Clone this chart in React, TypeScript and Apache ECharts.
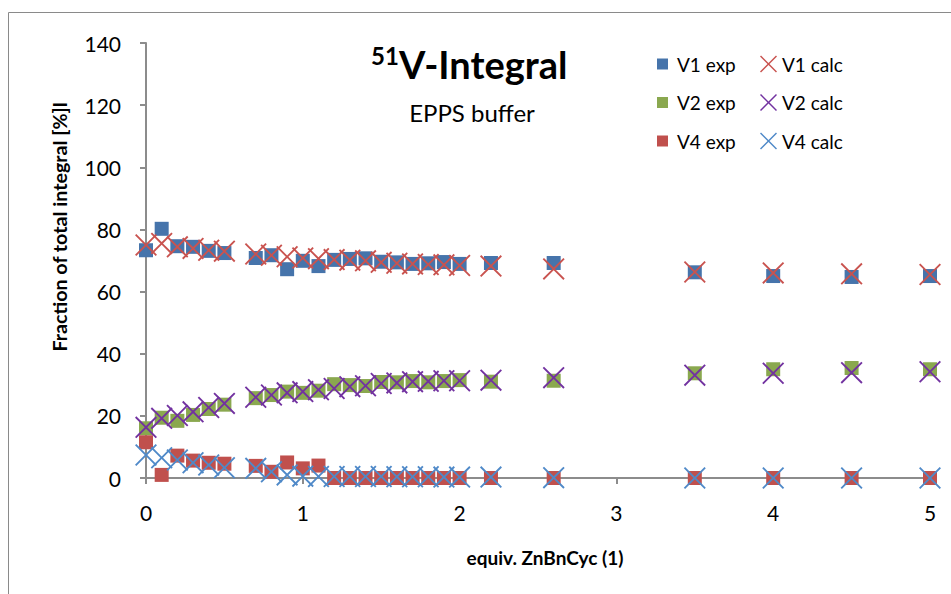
import React, { useEffect, useRef } from "react";
import * as echarts from "echarts";

const xValues = [0, 0.1, 0.2, 0.3, 0.4, 0.5, 0.7, 0.8, 0.9, 1.0, 1.1, 1.2, 1.3, 1.4, 1.5, 1.6, 1.7, 1.8, 1.9, 2.0, 2.2, 2.6, 3.5, 4.0, 4.5, 5.0];

const v1Exp = [73.3, 80.2, 74.6, 74.4, 73.1, 72.4, 70.8, 71.7, 67.2, 69.9, 68.2, 70.2, 70.5, 70.7, 69.6, 69.4, 68.9, 69.1, 69.5, 68.9, 69.2, 69.2, 66.2, 65.0, 64.7, 65.0];
const v1Calc = [75.0, 75.5, 74.4, 73.9, 73.3, 73.0, 72.1, 71.7, 71.2, 70.8, 70.6, 70.3, 70.1, 69.9, 69.4, 69.1, 68.9, 68.7, 68.6, 68.4, 68.2, 67.3, 66.3, 66.0, 65.7, 65.5];
const v2Exp = [16.0, 19.4, 18.4, 20.3, 22.2, 23.6, 25.7, 26.7, 27.8, 27.4, 28.1, 30.2, 29.9, 29.6, 30.9, 30.8, 31.2, 30.8, 31.2, 31.5, 31.0, 31.3, 33.7, 35.0, 35.4, 35.0];
const v2Calc = [16.3, 19.2, 20.1, 21.3, 22.7, 24.0, 26.0, 26.7, 27.4, 27.8, 28.4, 28.8, 29.4, 29.7, 30.4, 30.6, 31.0, 31.1, 31.3, 31.3, 31.5, 32.3, 33.1, 33.7, 33.9, 34.2];
const v4Exp = [11.5, 1.0, 7.2, 5.6, 4.9, 4.6, 3.9, 2.0, 5.0, 3.1, 4.0, 0, 0, 0, 0, 0, 0, 0, 0, 0, 0, 0, 0, 0, 0, 0];
const v4Calc = [7.4, 6.5, 5.8, 4.9, 4.2, 3.3, 3.1, 2.0, 1.0, 0.6, 0.5, 0.5, 0.5, 0.5, 0.5, 0.4, 0.4, 0.4, 0.3, 0.3, 0.3, 0.1, 0, 0, 0, 0];

const expNames = ["V1 exp", "V2 exp", "V4 exp"];
const calcNames = ["V1 calc", "V2 calc", "V4 calc"];

const FONT = "Lato, 'Liberation Sans', sans-serif";
const X_PATH = "path://M0,6L6,0L50,44L94,0L100,6L56,50L100,94L94,100L50,56L6,100L0,94L44,50Z";

const COLORS = {
  v1Exp: "#4674AB",
  v2Exp: "#8AA84F",
  v4Exp: "#C0504D",
  v1Calc: "#C9534F",
  v2Calc: "#7232A0",
  v4Calc: "#4F89C8",
};

export default function App() {
  const ref = useRef<HTMLDivElement>(null);
  useEffect(() => {
    const chart = echarts.init(ref.current!, null, { renderer: "svg" });
    const pairs = (ys: number[]) => xValues.map((x, i) => [x, ys[i]]);
    const expSeries = (name: string, ys: number[], color: string) => ({
      name,
      type: "scatter",
      symbol: "rect",
      symbolSize: 14,
      itemStyle: { color, opacity: 1 },
      emphasis: { disabled: true },
      data: pairs(ys),
    });
    const calcSeries = (name: string, ys: number[], color: string) => ({
      name,
      type: "scatter",
      symbol: X_PATH,
      symbolSize: 22,
      itemStyle: { color, opacity: 1 },
      emphasis: { disabled: true },
      data: pairs(ys),
    });
    const legendText = { fontFamily: FONT, fontSize: 19, color: "#000", lineHeight: 20 };
    chart.setOption({
      animation: false,
      grid: { left: 146, right: 21, top: 43, bottom: 116, containLabel: false },
      xAxis: {
        type: "value",
        min: 0,
        max: 5,
        interval: 1,
        axisLine: { show: true, lineStyle: { color: "#8c8c8c", width: 2 } },
        axisTick: { show: true, length: 6, lineStyle: { color: "#8c8c8c", width: 2 } },
        axisLabel: { fontFamily: FONT, fontSize: 21, color: "#000", margin: 24 },
        splitLine: { show: false },
      },
      yAxis: {
        type: "value",
        min: 0,
        max: 140,
        interval: 20,
        axisLine: { show: true, lineStyle: { color: "#8c8c8c", width: 2 } },
        axisTick: { show: true, length: 6, lineStyle: { color: "#8c8c8c", width: 2 } },
        axisLabel: { fontFamily: FONT, fontSize: 21, color: "#000", margin: 25 },
        splitLine: { show: false },
      },
      legend: [
        {
          data: expNames,
          orient: "vertical",
          left: 657,
          top: 54,
          padding: 0,
          itemWidth: 11,
          itemHeight: 11,
          itemGap: 18.5,
          icon: "rect",
          selectedMode: false,
          textStyle: { ...legendText, padding: [0, 0, 0, 4] },
        },
        {
          data: calcNames,
          orient: "vertical",
          left: 760,
          top: 54,
          padding: 0,
          itemWidth: 17,
          itemHeight: 17,
          itemGap: 18.5,
          selectedMode: false,
          textStyle: legendText,
        },
      ],
      graphic: [
        {
          type: "polyline",
          silent: true,
          shape: { points: [[8.5, 600], [8.5, 12.5], [960, 12.5]] },
          style: { fill: "none", stroke: "#8a8a8a", lineWidth: 1 },
        },
        {
          type: "text",
          silent: true,
          x: 371,
          y: 55,
          style: { text: "51", fontFamily: FONT, fontSize: 24, fontWeight: "bold", fill: "#000", align: "left", verticalAlign: "middle" },
        },
        {
          type: "text",
          silent: true,
          x: 399,
          y: 64,
          style: { text: "V-Integral", fontFamily: FONT, fontSize: 38, fontWeight: "bold", fill: "#000", align: "left", verticalAlign: "middle" },
        },
        {
          type: "text",
          silent: true,
          x: 472,
          y: 112,
          style: { text: "EPPS buffer", fontFamily: FONT, fontSize: 24, fill: "#000", align: "center", verticalAlign: "middle" },
        },
        {
          type: "text",
          silent: true,
          x: 59,
          y: 227,
          rotation: Math.PI / 2,
          style: { text: "Fraction of total integral [%]l", fontFamily: FONT, fontSize: 19.7, fontWeight: "bold", fill: "#000", align: "center", verticalAlign: "middle" },
        },
        {
          type: "text",
          silent: true,
          x: 545,
          y: 557,
          style: { text: "equiv. ZnBnCyc (1)", fontFamily: FONT, fontSize: 19, fontWeight: "bold", fill: "#000", align: "center", verticalAlign: "middle" },
        },
      ],
      series: [
        expSeries("V1 exp", v1Exp, COLORS.v1Exp),
        expSeries("V2 exp", v2Exp, COLORS.v2Exp),
        expSeries("V4 exp", v4Exp, COLORS.v4Exp),
        calcSeries("V1 calc", v1Calc, COLORS.v1Calc),
        calcSeries("V2 calc", v2Calc, COLORS.v2Calc),
        calcSeries("V4 calc", v4Calc, COLORS.v4Calc),
      ],
    });
    return () => chart.dispose();
  }, []);
  return (
    <div
      ref={ref}
      style={{ position: "fixed", left: 0, top: 0, width: 951, height: 594, background: "#fff" }}
    />
  );
}
